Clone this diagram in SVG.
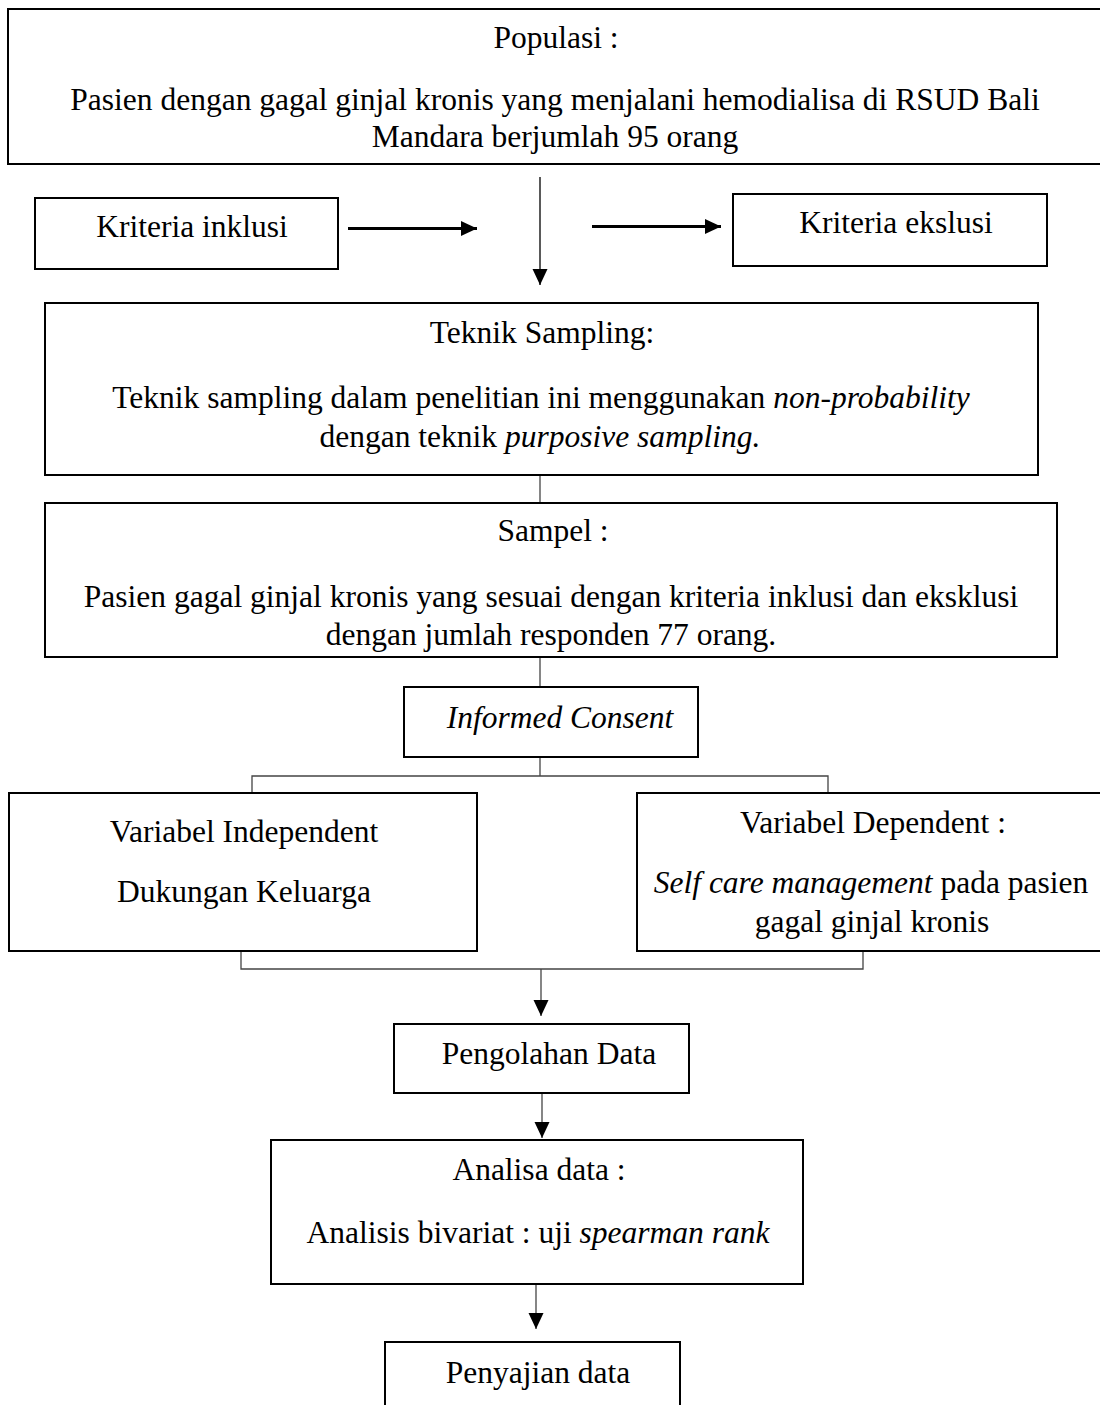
<svg xmlns="http://www.w3.org/2000/svg" width="1100" height="1405" viewBox="0 0 1100 1405">
<style>
.box{fill:#fff;stroke:#000;stroke-width:2}
.t{font-family:"Liberation Serif","Times New Roman",serif;font-size:31.5px;fill:#000;text-anchor:middle}
.i{font-style:italic}
.c{fill:none;stroke:#444;stroke-width:1.3}
.thick{fill:none;stroke:#000;stroke-width:2.8}
</style>
<defs>
<marker id="ah" markerWidth="16" markerHeight="16" refX="16" refY="8" orient="auto" markerUnits="userSpaceOnUse">
<path d="M0,0.5 L16,8 L0,15.5 Z" fill="#000"/>
</marker>
</defs>
<rect width="1100" height="1405" fill="#fff"/>
<g id="connectors">
<line class="c" x1="540" y1="177" x2="540" y2="285" marker-end="url(#ah)" style="stroke:#000"/>
<line class="thick" x1="348" y1="228.5" x2="477" y2="228.5" marker-end="url(#ah)"/>
<line class="thick" x1="592" y1="226.5" x2="721" y2="226.5" marker-end="url(#ah)"/>
<line class="c" x1="540" y1="475" x2="540" y2="503"/>
<line class="c" x1="540" y1="657" x2="540" y2="687"/>
<polyline class="c" points="540,757 540,776"/>
<polyline class="c" points="252,793 252,776 828,776 828,793"/>
<polyline class="c" points="241,951 241,969 863,969 863,951"/>
<line class="c" x1="541" y1="969" x2="541" y2="1016" marker-end="url(#ah)"/>
<line class="c" x1="542" y1="1093" x2="542" y2="1138" marker-end="url(#ah)"/>
<line class="c" x1="536" y1="1284" x2="536" y2="1329" marker-end="url(#ah)"/>
</g>
<g id="populasi">
<rect class="box" x="8" y="9" width="1098" height="155"/>
<text class="t" x="556" y="48">Populasi :</text>
<text class="t" x="555" y="110">Pasien dengan gagal ginjal kronis yang menjalani hemodialisa di RSUD Bali</text>
<text class="t" x="555" y="147">Mandara berjumlah 95 orang</text>
</g>
<g id="inklusi">
<rect class="box" x="35" y="198" width="303" height="71"/>
<text class="t" x="192" y="237">Kriteria inklusi</text>
</g>
<g id="ekslusi">
<rect class="box" x="733" y="194" width="314" height="72"/>
<text class="t" x="896" y="233">Kriteria ekslusi</text>
</g>
<g id="teknik">
<rect class="box" x="45" y="303" width="993" height="172"/>
<text class="t" x="542" y="343">Teknik Sampling:</text>
<text class="t" x="541" y="408">Teknik sampling dalam penelitian ini menggunakan <tspan class="i">non-probability</tspan></text>
<text class="t" x="540" y="447">dengan teknik <tspan class="i">purposive sampling.</tspan></text>
</g>
<g id="sampel">
<rect class="box" x="45" y="503" width="1012" height="154"/>
<text class="t" x="553" y="541">Sampel :</text>
<text class="t" x="551" y="607">Pasien gagal ginjal kronis yang sesuai dengan kriteria inklusi dan eksklusi</text>
<text class="t" x="551" y="645">dengan jumlah responden 77 orang.</text>
</g>
<g id="informed">
<rect class="box" x="404" y="687" width="294" height="70"/>
<text class="t i" x="560" y="728">Informed Consent</text>
</g>
<g id="independent">
<rect class="box" x="9" y="793" width="468" height="158"/>
<text class="t" x="244" y="842">Variabel Independent</text>
<text class="t" x="244" y="902">Dukungan Keluarga</text>
</g>
<g id="dependent">
<rect class="box" x="637" y="793" width="470" height="158"/>
<text class="t" x="873" y="833">Variabel Dependent :</text>
<text class="t" x="871" y="893"><tspan class="i">Self care management</tspan> pada pasien</text>
<text class="t" x="872" y="932">gagal ginjal kronis</text>
</g>
<g id="pengolahan">
<rect class="box" x="394" y="1024" width="295" height="69"/>
<text class="t" x="549" y="1064">Pengolahan Data</text>
</g>
<g id="analisa">
<rect class="box" x="271" y="1140" width="532" height="144"/>
<text class="t" x="539" y="1180">Analisa data :</text>
<text class="t" x="538" y="1243">Analisis bivariat : uji <tspan class="i">spearman rank</tspan></text>
</g>
<g id="penyajian">
<rect class="box" x="385" y="1342" width="295" height="80"/>
<text class="t" x="538" y="1383">Penyajian data</text>
</g>
</svg>
